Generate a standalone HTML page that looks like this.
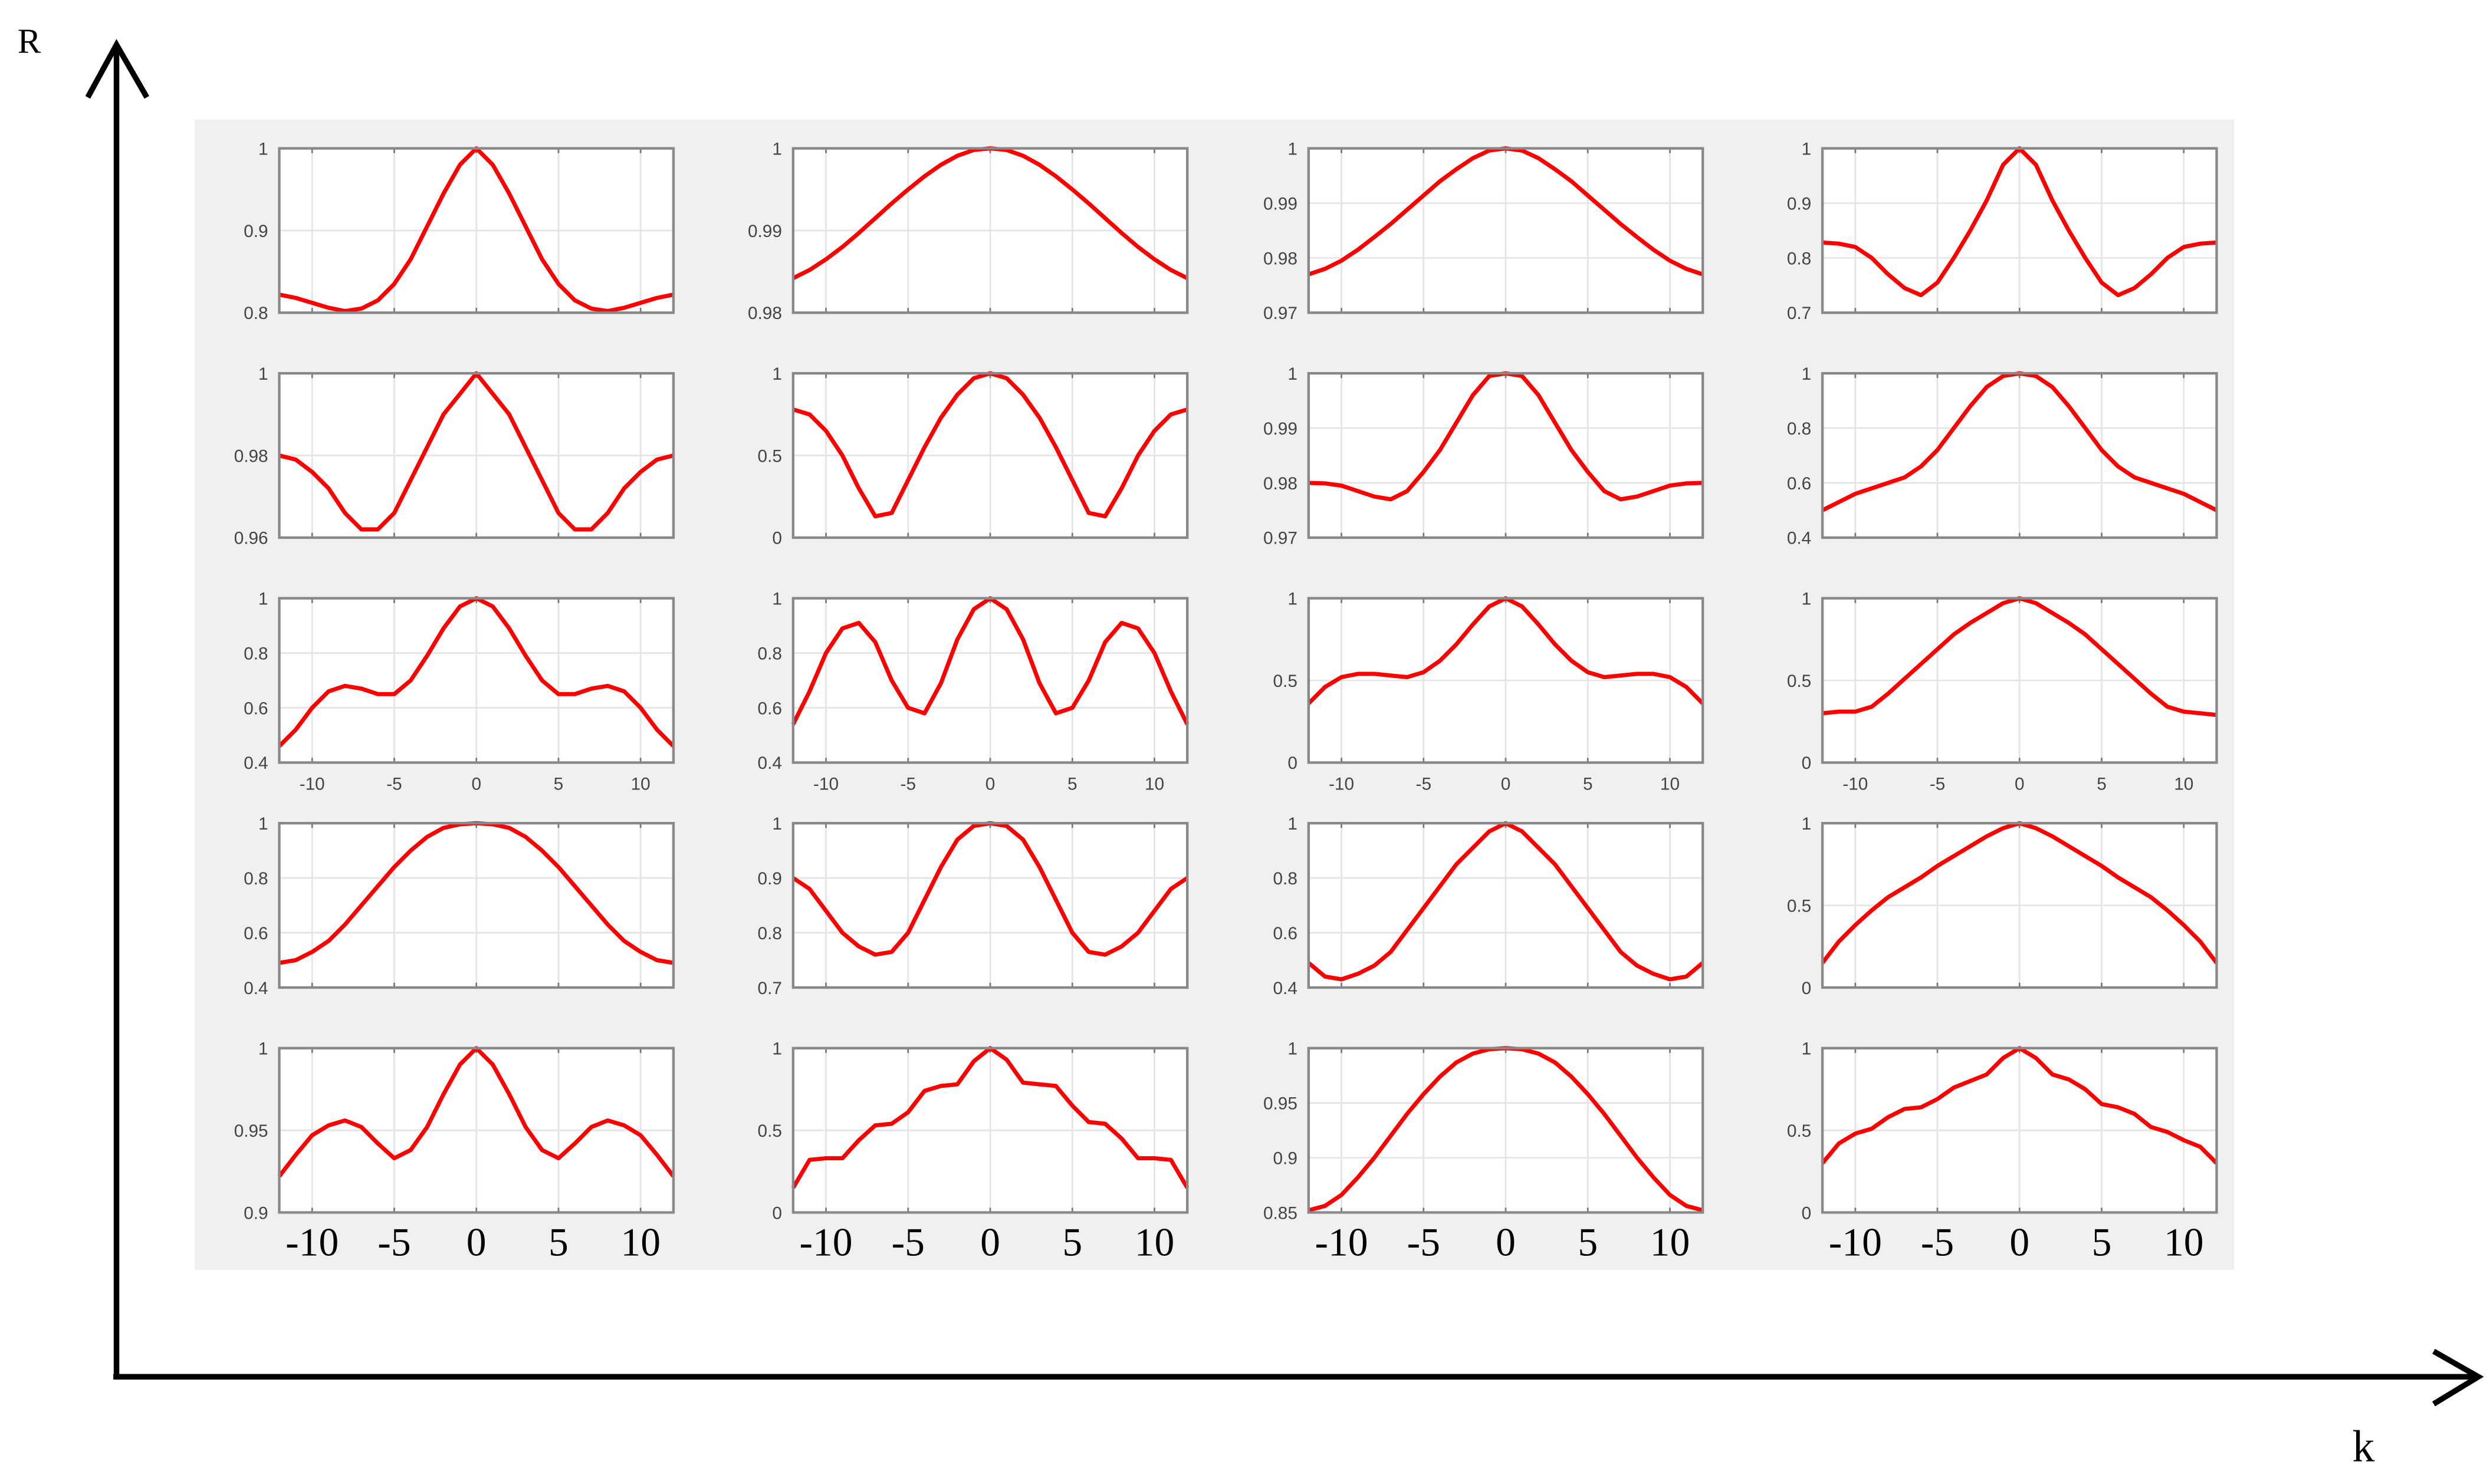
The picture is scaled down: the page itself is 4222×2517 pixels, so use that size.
<!DOCTYPE html>
<html><head><meta charset="utf-8"><style>
html,body{margin:0;padding:0;background:#fff;}
svg{display:block;}
</style></head><body>
<svg id="fig" width="4222" height="2517" viewBox="0 0 1560.3 930.2" xmlns="http://www.w3.org/2000/svg">
<rect x="122" y="75" width="1278" height="721" fill="#f0f0f0"/>
<g stroke="#000" stroke-width="3.5" fill="none">
<line x1="73" y1="29" x2="73" y2="864"/><polyline points="55,61 73,28 92,61"/>
</g>
<g stroke="#000" stroke-width="3.5" fill="none">
<line x1="71" y1="863" x2="1551" y2="863"/><polyline points="1525,847 1553,863 1525,880"/>
</g>
<text x="11" y="33" font-family="Liberation Serif, serif" font-size="22">R</text>
<text x="1474" y="916" font-family="Liberation Serif, serif" font-size="28">k</text>
<g id="panels"></g>
</svg>
<script>
const kValues=[-12,-11,-10,-9,-8,-7,-6,-5,-4,-3,-2,-1,0,1,2,3,4,5,6,7,8,9,10,11,12];
const xTicks=[-10,-5,0,5,10];
const s11=[.822,.818,.812,.806,.802,.805,.815,.835,.865,.905,.945,.98,1,.98,.945,.905,.865,.835,.815,.805,.802,.806,.812,.818,.822];
const s12=[.9842,.9852,.9865,.988,.9897,.9915,.9933,.995,.9966,.998,.9991,.9998,1,.9998,.9991,.998,.9966,.995,.9933,.9915,.9897,.988,.9865,.9852,.9842];
const s13=[.977,.978,.9795,.9815,.9838,.9862,.9888,.9914,.994,.9962,.9982,.9996,1,.9996,.9982,.9962,.994,.9914,.9888,.9862,.9838,.9815,.9795,.978,.977];
const s14=[.828,.826,.82,.80,.77,.745,.732,.755,.80,.85,.905,.97,1,.97,.905,.85,.80,.755,.732,.745,.77,.80,.82,.826,.828];
const s21=[.980,.979,.976,.972,.966,.962,.962,.966,.974,.982,.990,.995,1,.995,.990,.982,.974,.966,.962,.962,.966,.972,.976,.979,.980];
const s22=[.78,.75,.65,.5,.3,.13,.15,.35,.55,.73,.87,.97,1,.97,.87,.73,.55,.35,.15,.13,.3,.5,.65,.75,.78];
const s23=[.980,.9799,.9795,.9785,.9775,.977,.9785,.982,.986,.991,.996,.9995,1,.9995,.996,.991,.986,.982,.9785,.977,.9775,.9785,.9795,.9799,.980];
const s24=[.50,.53,.56,.58,.60,.62,.66,.72,.80,.88,.95,.99,1,.99,.95,.88,.80,.72,.66,.62,.60,.58,.56,.53,.50];
const s31=[.46,.52,.60,.66,.68,.67,.65,.65,.70,.79,.89,.97,1,.97,.89,.79,.70,.65,.65,.67,.68,.66,.60,.52,.46];
const s32=[.54,.66,.80,.89,.91,.84,.70,.60,.58,.69,.85,.96,1,.96,.85,.69,.58,.60,.70,.84,.91,.89,.80,.66,.54];
const s33=[.36,.46,.52,.54,.54,.53,.52,.55,.62,.72,.84,.95,1,.95,.84,.72,.62,.55,.52,.53,.54,.54,.52,.46,.36];
const s34=[.30,.31,.31,.34,.42,.51,.60,.69,.78,.85,.91,.97,1,.97,.91,.85,.78,.69,.60,.51,.42,.34,.31,.30,.29];
const s41=[.49,.50,.53,.57,.63,.70,.77,.84,.90,.95,.983,.996,1,.996,.983,.95,.90,.84,.77,.70,.63,.57,.53,.50,.49];
const s42=[.90,.88,.84,.80,.775,.76,.765,.80,.86,.92,.97,.995,1,.995,.97,.92,.86,.80,.765,.76,.775,.80,.84,.88,.90];
const s43=[.49,.44,.43,.45,.48,.53,.61,.69,.77,.85,.91,.97,1,.97,.91,.85,.77,.69,.61,.53,.48,.45,.43,.44,.49];
const s44=[.15,.28,.38,.47,.55,.61,.67,.74,.80,.86,.92,.97,1,.97,.92,.86,.80,.74,.67,.61,.55,.47,.38,.28,.15];
const s51=[.922,.935,.947,.953,.956,.952,.942,.933,.938,.952,.972,.990,1,.990,.972,.952,.938,.933,.942,.952,.956,.953,.947,.935,.922];
const s52=[.15,.32,.33,.33,.44,.53,.54,.61,.74,.77,.78,.92,1,.93,.79,.78,.77,.65,.55,.54,.45,.33,.33,.32,.15];
const s53=[.852,.856,.866,.882,.900,.920,.940,.958,.974,.987,.995,.999,1,.999,.995,.987,.974,.958,.940,.920,.900,.882,.866,.856,.852];
const s54=[.30,.42,.48,.51,.58,.63,.64,.69,.76,.80,.84,.94,1,.94,.84,.81,.75,.66,.64,.60,.52,.49,.44,.40,.30];
const yMin=[[.8,.98,.97,.7],[.96,0,.97,.4],[.4,.4,0,0],[.4,.7,.4,0],[.9,0,.85,0]];
const yTickLabels=[
 [["0.8","0.9","1"],["0.98","0.99","1"],["0.97","0.98","0.99","1"],["0.7","0.8","0.9","1"]],
 [["0.96","0.98","1"],["0","0.5","1"],["0.97","0.98","0.99","1"],["0.4","0.6","0.8","1"]],
 [["0.4","0.6","0.8","1"],["0.4","0.6","0.8","1"],["0","0.5","1"],["0","0.5","1"]],
 [["0.4","0.6","0.8","1"],["0.7","0.8","0.9","1"],["0.4","0.6","0.8","1"],["0","0.5","1"]],
 [["0.9","0.95","1"],["0","0.5","1"],["0.85","0.9","0.95","1"],["0","0.5","1"]]];
const series=[[s11,s12,s13,s14],[s21,s22,s23,s24],[s31,s32,s33,s34],[s41,s42,s43,s44],[s51,s52,s53,s54]];

const NS="http://www.w3.org/2000/svg";
const colX=[175,497,820,1142], rowY=[93,234,375,516,657], W=247, H=103;
const root=document.getElementById('panels');
function mk(t,a,p){const e=document.createElementNS(NS,t);for(const k in a)e.setAttribute(k,a[k]);p.appendChild(e);return e;}
for(let r=0;r<5;r++)for(let c=0;c<4;c++){
 const x0=colX[c],y0=rowY[r],lo=yMin[r][c],hi=1;
 const xs=k=>x0+(k+12)/24*W, ys=v=>y0+H-(v-lo)/(hi-lo)*H;
 const g=mk('g',{},root);
 
 
 const bg=mk('rect',{x:x0,y:y0,width:W,height:H,fill:'#fff'},g);
 
 
 xTicks.forEach(t=>{const l=mk('line',{x1:xs(t),x2:xs(t),y1:y0,y2:y0+H,stroke:'#e4e4e4','stroke-width':1},g);
  
  
  mk('line',{x1:xs(t),x2:xs(t),y1:y0,y2:y0+3,stroke:'#777','stroke-width':1},g);
  mk('line',{x1:xs(t),x2:xs(t),y1:y0+H,y2:y0+H-3,stroke:'#777','stroke-width':1},g);
 });
 yTickLabels[r][c].forEach(s=>{const v=parseFloat(s),y=ys(v);
  const l=mk('line',{x1:x0,x2:x0+W,y1:y,y2:y,stroke:'#e4e4e4','stroke-width':1},g);
  
  
  const tx=mk('text',{x:x0-7,y:y+4,'text-anchor':'end','font-family':'Liberation Sans, sans-serif','font-size':11,fill:'#444'},g);
  
  
  tx.textContent=s;
 });
 const d=series[r][c].map((v,i)=>(i?'L':'M')+xs(kValues[i]).toFixed(2)+','+ys(v).toFixed(2)).join('');
 const p=mk('path',{d:d,fill:'none',stroke:'#ff0000','stroke-width':2.6,'stroke-linejoin':'round'},g);
 
 
 const bx=mk('rect',{x:x0,y:y0,width:W,height:H,fill:'none',stroke:'#888','stroke-width':1.6},g);
 
 
 if(r===2){xTicks.forEach(t=>{const tx=mk('text',{x:xs(t),y:y0+H+17,'text-anchor':'middle','font-family':'Liberation Sans, sans-serif','font-size':11,fill:'#444'},g);
  
  
  tx.textContent=String(t);});}
 if(r===4){xTicks.forEach(t=>{const tx=mk('text',{x:xs(t),y:y0+H+27,'text-anchor':'middle','font-family':'Liberation Serif, serif','font-size':25,fill:'#000'},g);
  
  
  tx.textContent=String(t);});}
}
</script>
</body></html>
